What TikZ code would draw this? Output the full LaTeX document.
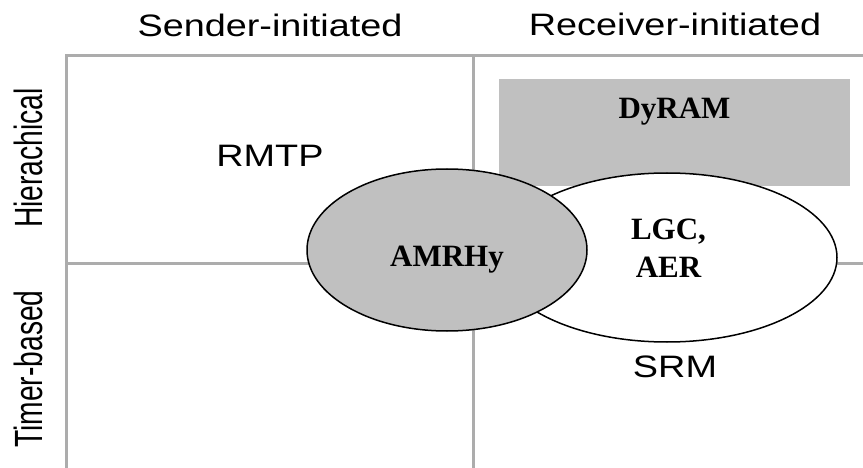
\documentclass[tikz,border=0pt]{standalone}
\usepackage{graphicx}
\usepackage{xcolor}
\usepackage{fontspec}
\setmainfont{Liberation Serif}
\setsansfont{Liberation Sans}
\usepackage{tikz}
\usetikzlibrary{positioning,shapes.geometric}
\definecolor{gridgray}{RGB}{172,172,172}
\definecolor{boxgray}{RGB}{192,192,192}
\newcommand{\widetxt}[1]{\scalebox{1.22}[1]{#1}}
\newcommand{\sidetxt}[1]{\scalebox{0.91}[1.27]{#1}}
\tikzset{head node/.style={inner sep=0pt,anchor=base,font=\sffamily\fontsize{31}{36}\selectfont},
	side node/.style={inner sep=0pt,anchor=base,rotate=90,font=\sffamily\fontsize{31}{36}\selectfont},
	name node/.style={inner sep=0pt,align=center,font=\bfseries\fontsize{31}{38}\selectfont},
	grid line/.style={draw=gridgray,line width=3pt},
	oval node/.style={ellipse,draw,line width=1.5pt,inner sep=0pt},}

\begin{document}
\begin{tikzpicture}[x=1pt,y=-1pt]
	\useasboundingbox (0,0) rectangle (863,468);

	% grid
	\path[grid line] (66.5,468) -- (66.5,55.5) -- (863,55.5);
	\path[grid line] (473,55.5) -- (473,468);
	\path[grid line] (66.5,263) -- (863,263);

	% headings
	\node[head node] (sender) at (270,36.5) {\widetxt{Sender-initiated}};
	\node[head node] (receiver) at (675,35.5) {\widetxt{Receiver-initiated}};
	\node[side node] (hier) at (42,158) {\sidetxt{Hierachical}};
	\node[side node] (timer) at (42,369) {\sidetxt{Timer-based}};

	% protocols
	\node[name node,fill=boxgray,anchor=north,minimum width=351pt,
		text height=39.5pt,text depth=67pt] (dyram) at (674.5,79) {DyRAM};
	\node[oval node,fill=white,minimum width=340pt,minimum height=169pt] (lgc) at (667,257.5) {};
	\node[oval node,fill=boxgray,minimum width=280pt,minimum height=162pt] (amrhy) at (447,250) {};

	\node[name node,anchor=base] (amrhylabel) at (447,266) {AMRHy};
	\node[name node] (lgclabel) at (668.5,248) {LGC,\\AER};
	\node[head node] (rmtp) at (270,167) {\widetxt{RMTP}};
	\node[head node] (srm) at (675,377) {\widetxt{SRM}};
\end{tikzpicture}
\end{document}
